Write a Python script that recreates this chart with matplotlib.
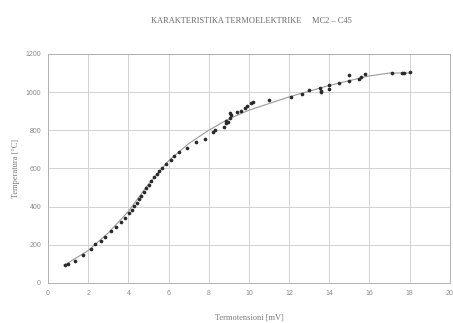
import numpy as np
import matplotlib.pyplot as plt

# measured points (mV, degC)
mv = [0.84, 0.99, 1.33, 1.72, 2.12, 2.36, 2.66, 2.86, 3.15, 3.40, 3.65, 3.84, 4.04, 4.19,
      4.29, 4.41, 4.53, 4.65, 4.78, 4.90, 5.02, 5.15, 5.27, 5.40, 5.52, 5.65, 5.86, 6.11,
      6.26, 6.50, 6.90, 7.39, 7.83, 8.23, 8.33, 8.77, 8.87, 8.87, 8.97, 9.06, 9.06, 9.10,
      9.41, 9.60, 9.80, 9.90, 10.10, 10.20, 11.0, 12.07, 12.66, 13.0, 13.55, 13.6, 13.6,
      14.0, 14.0, 14.5, 15.0, 15.0, 15.5, 15.6, 15.8, 17.1, 17.6, 17.7, 18.0]
temp = [94, 100, 115, 147, 178, 204, 220, 241, 272, 293, 320, 341, 367, 383,
        405, 420, 440, 458, 478, 495, 515, 535, 553, 572, 588, 603, 625, 642,
        665, 686, 707, 739, 755, 791, 802, 817, 838, 849, 844, 865, 891, 880,
        896, 901, 917, 927, 943, 948, 959, 975, 990, 1011, 1022, 1001, 1006,
        1038, 1017, 1048, 1058, 1090, 1069, 1079, 1095, 1100, 1100, 1100, 1105]

# trend line
fit_x = [0.8, 1, 2, 3, 4, 5, 6, 7, 8, 9, 10, 11, 12, 13, 14, 15, 16, 17, 18]
fit_y = [95, 105, 170, 262, 375, 518, 640, 730, 800, 860, 905, 940, 975, 1005, 1035, 1060, 1085, 1100, 1100]

plt.rcParams['font.family'] = 'Liberation Serif'
fig = plt.figure(figsize=(4.53, 3.23), dpi=100)
ax = fig.add_axes([0.106, 0.124, 0.887, 0.709])

ax.plot(fit_x, fit_y, color='#9a9a9a', lw=0.8, zorder=2)
ax.scatter(mv, temp, s=7, color='#2a2a2a', zorder=3, linewidths=0)

ax.set_xlim(0, 20)
ax.set_ylim(0, 1200)
ax.set_xticks(np.arange(0, 21, 2))
ax.set_yticks(np.arange(0, 1201, 200))
ax.grid(True, color='#d2d2d2', lw=0.7)
for s in ax.spines.values():
    s.set_color('#b0b0b0')
    s.set_linewidth(0.7)
ax.tick_params(length=0, labelsize=5, labelcolor='#8a8a8a', pad=5)
for lab in ax.get_xticklabels() + ax.get_yticklabels():
    lab.set_family('Liberation Sans')

ax.set_xlabel('Termotensioni [mV]', fontsize=6, color='#7a7a7a', labelpad=12)
ax.set_ylabel('Temperatura [°C]', fontsize=6, color='#7a7a7a', labelpad=4)
fig.text(0.556, 0.93, 'KARAKTERISTIKA TERMOELEKTRIKE     MC2 – C45', ha='center',
         fontsize=6, color='#6a6a6a')

fig.savefig('out.png', dpi=100)
